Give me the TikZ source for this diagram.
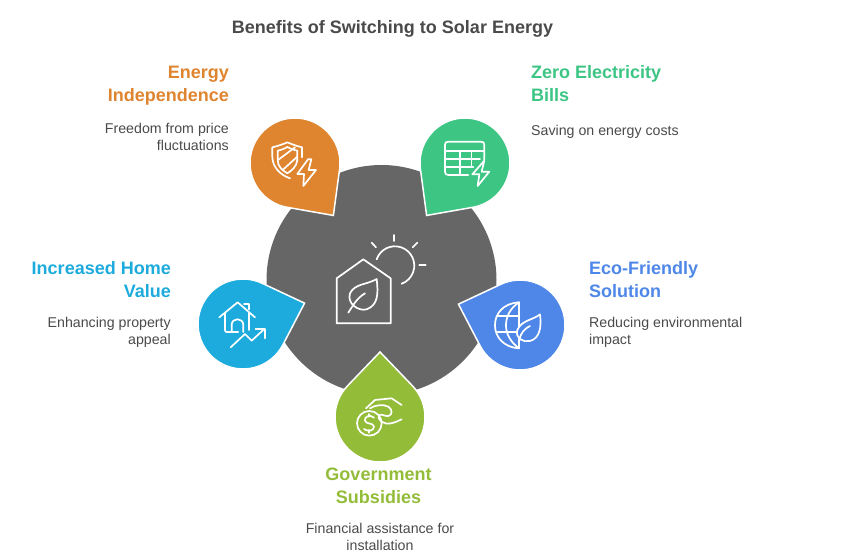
\documentclass[tikz,border=0pt]{standalone}
\usepackage{fontspec}
\setmainfont{Liberation Sans}
\usepackage{tikz}

\definecolor{hubgray}{HTML}{666666}
\definecolor{textgray}{HTML}{4A4A4A}
\definecolor{orangedrop}{HTML}{DF842F}
\definecolor{greendrop}{HTML}{3CC583}
\definecolor{bluedrop}{HTML}{4F87E8}
\definecolor{limedrop}{HTML}{93BC39}
\definecolor{cyandrop}{HTML}{1CABDC}

\tikzset{
	heading/.style={inner sep=0pt,font=\fontsize{18}{23}\selectfont\bfseries},
	blurb/.style={inner sep=0pt,text=textgray,font=\fontsize{14.2}{17}\selectfont},
	icon/.style={draw=white,line width=1.7pt,line cap=round,line join=round},
	zoomed/.style={x=0.3333pt,y=-0.3333pt}
}

\begin{document}
\begin{tikzpicture}[x=1pt,y=1pt]
	\useasboundingbox (0,0) rectangle (846,-553);
	\fill[hubgray] (381.5,-280) circle (115);
	\foreach \col/\cx/\cy/\ang in {orangedrop/295/163/-53.8,greendrop/465/163/-126.2,bluedrop/520/325/161.3,limedrop/380/417/90,cyandrop/243/324/18.7}
		\draw[white,line width=1.5pt,fill=\col,shift={(\cx,-\cy)},rotate=\ang]
			(65,0) -- (46.2:45) arc[start angle=46.2,end angle=313.8,radius=45] -- cycle;

	% texts
	\node[heading,text=textgray] (title) at (392.5,-28.5) {Benefits of Switching to Solar Energy};
	\node[heading,text=orangedrop,align=right,anchor=east] (energyhead) at (229,-86) {Energy\\Independence};
	\node[blurb,align=right,anchor=east] (energytext) at (229,-136.5) {Freedom from price\\fluctuations};
	\node[heading,text=greendrop,align=left,anchor=west] (billshead) at (531,-84) {Zero Electricity\\Bills};
	\node[blurb,align=left,anchor=west] (billstext) at (531,-132) {Saving on energy costs};
	\node[heading,text=bluedrop,align=left,anchor=west] (ecohead) at (589,-279.5) {Eco-Friendly\\Solution};
	\node[blurb,align=left,anchor=west] (ecotext) at (589,-332.5) {Reducing environmental\\impact};
	\node[heading,text=cyandrop,align=right,anchor=east] (homehead) at (171,-279.5) {Increased Home\\Value};
	\node[blurb,align=right,anchor=east] (hometext) at (171,-332.5) {Enhancing property\\appeal};
	\node[heading,text=limedrop,align=center] (govhead) at (378.5,-485.5) {Government\\Subsidies};
	\node[blurb,align=center] (govtext) at (380,-537) {Financial assistance for\\installation};

	% center icon
	\begin{scope}[shift={(330pt,-230pt)},zoomed]
		\draw[icon] (20,145) -- (100,88) -- (182,145) -- (182,280) -- (20,280) -- cycle;
		\draw[icon] (140,147) .. controls (110,165) and (75,160) .. (60,190) .. controls (50,220) and (85,245) .. (110,238) .. controls (145,225) and (145,190) .. (140,147);
		\draw[icon] (55,248) .. controls (70,225) and (80,205) .. (105,190);
		\draw[icon] (140,88) arc[start angle=199,end angle=430,radius=58];
		\draw[icon] (192,15) -- (192,33);
		\draw[icon] (125,38) -- (138,52);
		\draw[icon] (262,38) -- (248,52);
		\draw[icon] (268,106) -- (287,106);
	\end{scope}

	% shield and bolt, table and bolt
	\begin{scope}[shift={(240pt,-110pt)},zoomed]
		\draw[icon] (150,205) .. controls (120,195) and (97,170) .. (97,140) -- (97,112) .. controls (125,105) and (135,100) .. (142,97) .. controls (150,100) and (165,107) .. (186,112) -- (186,142);
		\draw[icon] (113,122) .. controls (125,120) and (135,115) .. (142,111) .. controls (150,115) and (160,120) .. (172,122) -- (172,150) .. controls (170,170) and (155,182) .. (142,190) .. controls (128,182) and (113,170) .. (113,150) -- cycle;
		\draw[icon] (114,150) -- (165,112);
		\draw[icon] (128,180) -- (172,140);
		\draw[icon] (204,148) -- (172,192) -- (192,192) -- (190,228) -- (228,180) -- (206,180) -- (214,148) -- cycle;
		\draw[icon] (685,195) -- (625,195) .. controls (618,195) and (615,192) .. (615,185) -- (615,105) .. controls (615,98) and (618,95) .. (625,95) -- (723,95) .. controls (730,95) and (733,98) .. (733,105) -- (733,150);
		\draw[icon] (615,122) -- (733,122);
		\draw[icon] (615,148) -- (720,148);
		\draw[icon] (615,172) -- (700,172);
		\draw[icon] (660,122) -- (660,195);
		\draw[icon] (695,122) -- (695,172);
		\draw[icon] (733,152) -- (697,193) -- (718,193) -- (713,228) -- (748,185) -- (725,185) -- cycle;
	\end{scope}

	% globe and leaf, coin and hand
	\begin{scope}[shift={(320pt,-270pt)},zoomed]
		\draw[icon] (597,97) -- (597,235);
		\draw[icon] (597,97) .. controls (550,100) and (525,130) .. (525,166) .. controls (525,200) and (550,232) .. (597,235);
		\draw[icon] (597,97) .. controls (570,115) and (558,140) .. (558,166) .. controls (558,190) and (570,215) .. (597,235);
		\draw[icon] (533,138) -- (597,138);
		\draw[icon] (533,187) -- (590,187);
		\draw[icon,fill=bluedrop] (660,133) .. controls (640,150) and (605,150) .. (592,180) .. controls (585,205) and (610,218) .. (630,213) .. controls (660,205) and (665,170) .. (660,133) -- cycle;
		\draw[icon] (597,228) .. controls (595,205) and (605,180) .. (630,168);
		\draw[icon] (148,460) circle[radius=37];
		\draw[icon] (162,443) .. controls (150,432) and (132,440) .. (135,452) .. controls (138,464) and (160,457) .. (162,470) .. controls (162,482) and (145,487) .. (132,477);
		\draw[icon] (148,432) -- (148,440);
		\draw[icon] (148,480) -- (148,488);
		\draw[icon] (138,415) -- (165,390) -- (215,385) -- (245,405);
		\draw[icon] (150,415) .. controls (165,405) and (190,402) .. (205,410) .. controls (218,418) and (218,435) .. (205,438) .. controls (195,440) and (185,430) .. (178,436) .. controls (170,445) and (185,458) .. (200,461) .. controls (215,462) and (230,455) .. (245,448);
	\end{scope}

	% house and arrow
	\begin{scope}[shift={(190pt,-230pt)},zoomed]
		\draw[icon] (88,262) -- (143,217) -- (195,262);
		\draw[icon] (105,250) -- (105,300) .. controls (105,304) and (107,306) .. (110,306) -- (145,306);
		\draw[icon] (125,306) -- (125,285) .. controls (125,262) and (160,262) .. (160,285) -- (160,306);
		\draw[icon] (178,250) -- (178,300);
		\draw[icon] (162,222) -- (178,222) -- (178,238);
		\draw[icon] (122,352) -- (165,312) -- (185,332) -- (222,298);
		\draw[icon] (197,298) -- (224,298) -- (224,325);
	\end{scope}
\end{tikzpicture}
\end{document}
